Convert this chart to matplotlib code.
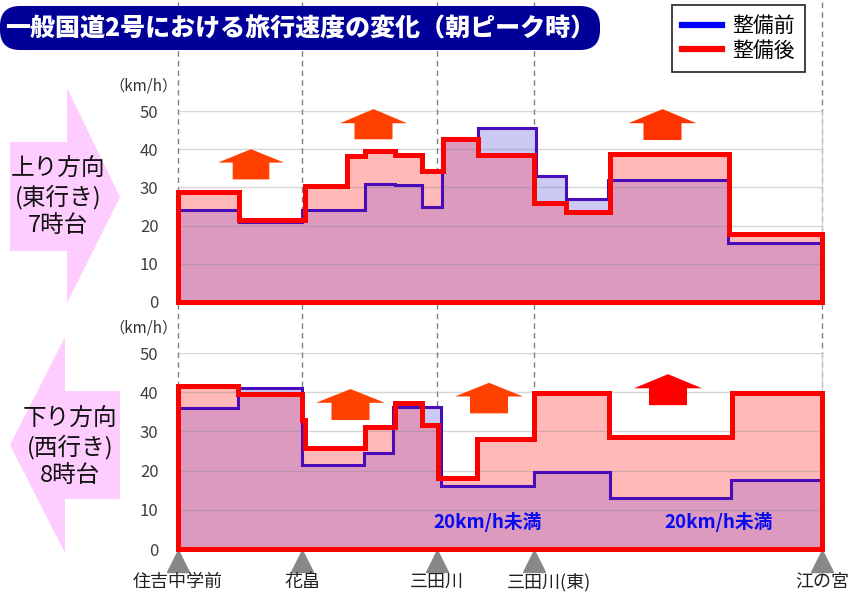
import numpy as np
import matplotlib.pyplot as plt
import matplotlib.transforms as mtransforms
from matplotlib.patches import Polygon, FancyBboxPatch
from matplotlib.lines import Line2D

plt.rcParams['font.family'] = ['Noto Sans CJK JP', 'DejaVu Sans']

# 観測地点と位置（住吉中学前からの距離、任意単位）
stations = ['住吉中学前', '花畠', '三田川', '三田川(東)', '江の宮']
station_pos = [0, 124, 259, 356, 644]
label_shift = [0, 0, 0, 15, 0]   # 地点名の横ずらし(px)

# 上り方向（東行き）7時台 旅行速度 km/h
up_before_edges = [0, 61, 124, 187, 217, 244, 264, 300, 358, 388, 430, 550, 644]
up_before = [24, 21, 24, 31, 30.5, 25, 43, 45.5, 33, 27, 32, 15.5]
up_after_edges = [0, 61, 127, 169, 187, 217, 244, 265, 300, 356, 388, 432, 551, 644]
up_after = [28.7, 21.5, 30.4, 38.2, 39.6, 38.5, 34.3, 42.8, 38.5, 26, 23.6, 38.7, 17.7]

# 下り方向（西行き）8時台 旅行速度 km/h
down_before_edges = [0, 60, 124, 186, 215, 263, 356, 432, 553, 644]
down_before = [36, 41, 21.5, 24.5, 36.3, 16, 19.7, 13, 17.5]
down_after_edges = [0, 60, 124, 127, 187, 217, 244, 260, 299, 356, 431, 554, 644]
down_after = [41.6, 39.5, 33, 25.7, 31, 37.3, 31.6, 18, 28, 39.7, 28.5, 39.7]

title = '一般国道2号における旅行速度の変化（朝ピーク時）'


def step_xy(edges, vals):
    x = np.repeat(edges, 2)[1:-1]
    y = np.repeat(vals, 2)
    return x, y


def value_at(edges, vals, x):
    idx = np.searchsorted(edges, x, side='right') - 1
    idx = np.clip(idx, 0, len(vals) - 1)
    return np.asarray(vals, dtype=float)[idx]


def draw_panel(ax, b_edges, b_vals, r_edges, r_vals):
    grid = np.union1d(b_edges, r_edges)
    b = value_at(b_edges, b_vals, grid)
    r = value_at(r_edges, r_vals, grid)
    ax.fill_between(grid, r, step='post', color='#FFB9B9', lw=0, zorder=1)
    ax.fill_between(grid, b, step='post', color='#CACAF4', lw=0, zorder=1)
    ax.fill_between(grid, np.minimum(b, r), step='post', color='#DC9BBE', lw=0, zorder=2)
    for g in range(10, 51, 10):
        ax.axhline(g, color='#888888', alpha=0.35, lw=1, zorder=3)
    bx, by = step_xy(b_edges, b_vals)
    ax.plot(bx, by, color='#4A0CB8', lw=2.2, zorder=4, solid_joinstyle='miter')
    rx, ry = step_xy(r_edges, r_vals)
    rx = np.concatenate([[rx[0]], rx, [rx[-1], rx[0]]])
    ry = np.concatenate([[0], ry, [0, 0]])
    ax.plot(rx, ry, color='#FF0000', lw=3.6, zorder=5, solid_joinstyle='miter', clip_on=False)

    ax.set_xlim(0, 644)
    ax.set_ylim(0, 50)
    ax.set_facecolor('none')
    for s in ['left', 'top', 'bottom']:
        ax.spines[s].set_visible(False)
    ax.spines['right'].set_color('#CCCCCC')
    ax.set_xticks([])
    ax.set_yticks(range(0, 51, 10))
    ax.tick_params(length=0, pad=14, labelsize=12, labelcolor='#404040')
    ax.text(-35, 56.5, '（km/h）', ha='center', va='center', fontsize=11, color='#333333')


def up_arrow(ax, x, tip, wing, base, hw, hs, color):
    pts = [(x, tip), (x + hw, wing), (x + hs, wing), (x + hs, base),
           (x - hs, base), (x - hs, wing), (x - hw, wing)]
    ax.add_patch(Polygon(pts, closed=True, fc=color, ec='none', zorder=6, clip_on=False))


fig = plt.figure(figsize=(8.48, 5.92), dpi=100)

bg = fig.add_axes([0, 0, 1, 1], zorder=0)
bg.set_xlim(0, 848)
bg.set_ylim(592, 0)
bg.axis('off')

ax_up = fig.add_axes([178 / 848, 1 - 302 / 592, 644 / 848, 191 / 592], zorder=1)
ax_dn = fig.add_axes([178 / 848, 1 - 549 / 592, 644 / 848, 196 / 592], zorder=1)

draw_panel(ax_up, up_before_edges, up_before, up_after_edges, up_after)
draw_panel(ax_dn, down_before_edges, down_before, down_after_edges, down_after)

# 改善を示す矢印
up_arrow(ax_up, 73, 40.0, 36.5, 32.1, 33, 18.3, '#FF4000')
up_arrow(ax_up, 195.5, 50.5, 46.8, 42.6, 33.5, 19, '#FF4000')
up_arrow(ax_up, 484.5, 50.5, 46.8, 42.4, 34, 19, '#FF3300')
up_arrow(ax_dn, 172.5, 40.8, 37.3, 32.9, 34.5, 19, '#FF4000')
up_arrow(ax_dn, 311, 42.4, 38.9, 34.6, 34, 19, '#FF4000')
up_arrow(ax_dn, 490, 44.6, 41.0, 36.7, 34, 19, '#FF0000')

for x in (310, 541):
    ax_dn.text(x, 6.9, '20km/h未満', color='#0A0AF0', fontsize=13.5, fontweight='bold',
               ha='center', va='center', zorder=7)

# 地点の縦破線・三角マーク・地点名
trans = mtransforms.blended_transform_factory(ax_dn.transData, fig.transFigure)
for p, name, dx in zip(station_pos, stations, label_shift):
    bg.plot([p, p], [1 - 552 / 592, 1.0], transform=trans, color='#808080', lw=1,
            dashes=(4, 3), clip_on=False)
    bg.plot([p], [1 - 561 / 592], transform=trans, marker='^', ms=16, color='#888888',
            ls='none', clip_on=False)
    t = mtransforms.offset_copy(trans, fig=fig, x=dx * 0.72, y=0, units='points')
    bg.text(p, 1 - 582 / 592, name, transform=t, ha='center', va='center',
            fontsize=13, color='#202020')

# 左側の方向矢印
bg.add_patch(Polygon([(10, 142), (67, 142), (67, 88), (120, 197), (67, 303), (67, 251), (10, 251)],
                     closed=True, fc='#FFCCFF', ec='none'))
bg.add_patch(Polygon([(10, 445), (65, 337), (65, 391), (120, 391), (120, 499), (65, 499), (65, 553)],
                     closed=True, fc='#FFCCFF', ec='none'))
for txt, y in [('上り方向', 168), ('(東行き)', 197), ('7時台', 226)]:
    bg.text(58, y, txt, ha='center', va='center', fontsize=17, color='#111111')
for txt, y in [('下り方向', 418), ('(西行き)', 447), ('8時台', 476)]:
    bg.text(70, y, txt, ha='center', va='center', fontsize=17, color='#111111')

# タイトル帯と凡例
top = fig.add_axes([0, 0, 1, 1], zorder=2)
top.set_xlim(0, 848)
top.set_ylim(592, 0)
top.axis('off')
top.add_patch(FancyBboxPatch((0, 6), 600, 44, boxstyle='round,pad=0,rounding_size=20',
                             fc='#000099', ec='none'))
top.text(300, 28, title, color='white', fontsize=18, fontweight='heavy', ha='center', va='center')

handles = [Line2D([], [], color='#0000FF', lw=4.5), Line2D([], [], color='#FF0000', lw=4.5)]
leg = fig.legend(handles, ['整備前', '整備後'], loc='upper left',
                 bbox_to_anchor=(672 / 848, 1 - 5 / 592), borderaxespad=0, fontsize=15,
                 frameon=True, fancybox=False, edgecolor='#222222', framealpha=1,
                 handlelength=1.9, labelspacing=0.1, borderpad=0.5, handletextpad=0.5)
leg.get_frame().set_linewidth(1.2)
leg.set_zorder(10)

fig.savefig('out.png', dpi=100)
